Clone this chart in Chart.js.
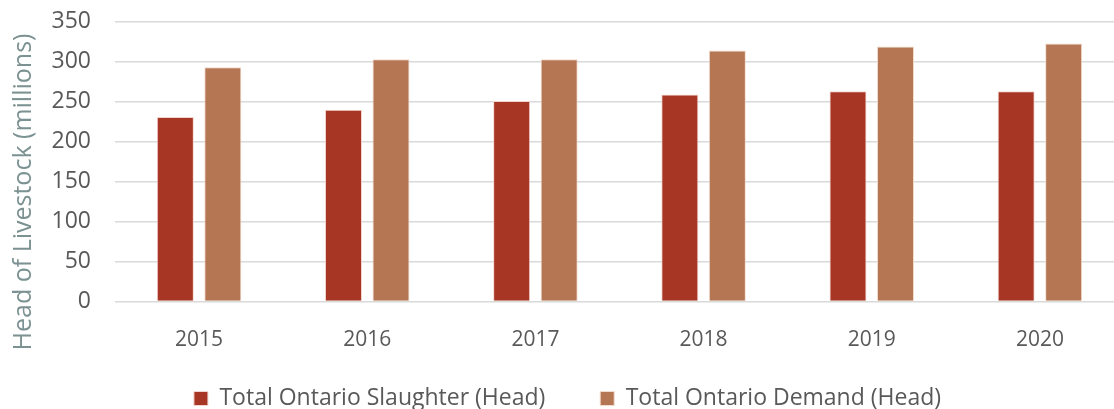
<!DOCTYPE html>
<html>
<head>
<meta charset="utf-8">
<script src="https://cdn.jsdelivr.net/npm/chart.js@4"></script>
<style>
  html, body { margin: 0; padding: 0; background: #fff; overflow: hidden; }
  #wrap { width: 1124px; height: 409px; }
</style>
</head>
<body>
<div id="wrap"><canvas id="chart"></canvas></div>
<script>
// Datos
const years = ['2015', '2016', '2017', '2018', '2019', '2020'];
const slaughter = [231, 240, 251, 259, 263, 263];
const demand = [293, 303, 303, 314, 319, 323];
const yTicks = [0, 50, 100, 150, 200, 250, 300, 350];
const seriesNames = ['Total Ontario Slaughter (Head)', 'Total Ontario Demand (Head)'];
const yTitle = 'Head of Livestock (millions)';

const fontFamily = "'Open Sans', 'Noto Sans', sans-serif";

// Título del eje Y dibujado a mano (en el original no está centrado en el área del gráfico)
const yTitlePlugin = {
    id: 'yTitle',
    afterDraw(chart) {
        const c = chart.ctx;
        c.save();
        c.translate(24, 192);
        c.rotate(-Math.PI / 2);
        c.font = "25px " + fontFamily;
        c.fillStyle = '#7C9191';
        c.textAlign = 'center';
        c.textBaseline = 'middle';
        c.fillText(yTitle, 0, 0);
        c.restore();
    }
};

const ctx = document.getElementById('chart').getContext('2d');
new Chart(ctx, {
    type: 'bar',
    data: {
        labels: years,
        datasets: [
            { label: seriesNames[0], data: slaughter, backgroundColor: '#A83624', borderColor: '#F2D6D0', borderWidth: 1, categoryPercentage: 0.565, barPercentage: 0.78 },
            { label: seriesNames[1], data: demand, backgroundColor: '#B57653', borderColor: '#F2DCCF', borderWidth: 1, categoryPercentage: 0.565, barPercentage: 0.78 }
        ]
    },
    options: {
        responsive: true,
        maintainAspectRatio: false,
        animation: false,
        layout: { padding: { left: 11, right: 0, top: 0, bottom: -11 } },
        plugins: {
            legend: {
                position: 'bottom',
                labels: {
                    boxWidth: 14, boxHeight: 14, padding: 13,
                    color: '#595959',
                    font: { family: fontFamily, size: 23 },
                    // espacio extra tras la primera entrada, como en el original
                    generateLabels: (chart) => Chart.defaults.plugins.legend.labels.generateLabels(chart)
                        .map((item, i) => { if (i === 0) item.text = item.text + '       '; return item; })
                }
            },
            tooltip: { enabled: false }
        },
        scales: {
            y: {
                min: 0, max: 350,
                afterBuildTicks: (axis) => { axis.ticks = yTicks.map(v => ({ value: v })); },
                afterFit: (axis) => { axis.width = 104; },
                border: { display: false },
                grid: { color: '#D9D9D9', lineWidth: 1.5, drawTicks: true, tickLength: 16, tickColor: 'rgba(0,0,0,0)' },
                ticks: { color: '#595959', padding: 8, font: { family: fontFamily, size: 23 } }
            },
            x: {
                afterFit: (axis) => { axis.height = 72.5; },
                border: { display: false },
                grid: { display: false },
                ticks: { color: '#595959', padding: 18, font: { family: fontFamily, size: 21 } }
            }
        }
    },
    plugins: [yTitlePlugin]
});
</script>
</body>
</html>
